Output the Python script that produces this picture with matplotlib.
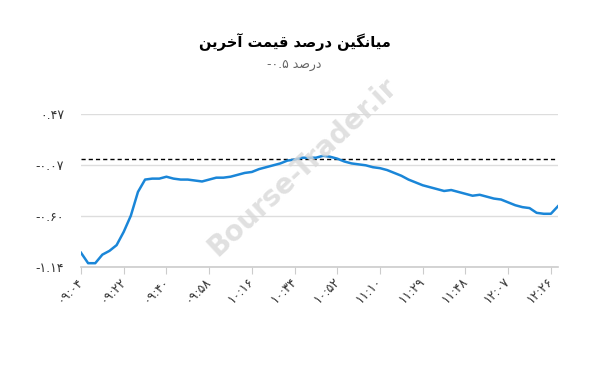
import numpy as np
import matplotlib
matplotlib.use("Agg")
import matplotlib.pyplot as plt

# average last-price change (%) sampled about every 3 minutes
values = [-0.99, -1.10, -1.10, -1.01, -0.97, -0.91, -0.77, -0.60, -0.35, -0.22,
          -0.21, -0.21, -0.19, -0.21, -0.22, -0.22, -0.23, -0.24, -0.22, -0.20,
          -0.20, -0.19, -0.17, -0.15, -0.14, -0.11, -0.09, -0.07, -0.05, -0.02,
          -0.01, 0.01, 0.01, 0.01, 0.03, 0.02, 0.00, -0.03, -0.05, -0.06,
          -0.07, -0.09, -0.10, -0.12, -0.15, -0.18, -0.22, -0.25, -0.28, -0.30,
          -0.32, -0.34, -0.33, -0.35, -0.37, -0.39, -0.38, -0.40, -0.42, -0.43,
          -0.46, -0.49, -0.51, -0.52, -0.57, -0.58, -0.58, -0.50]
tick_times = ["09:04", "09:22", "09:40", "09:58", "10:16", "10:34",
              "10:52", "11:10", "11:29", "11:48", "12:07", "12:26"]
y_min, y_max = -1.14, 0.47
ref_value = 0.0

title = "میانگین درصد قیمت آخرین"
unit = "درصد"
sub_value = "-0.5"

# matplotlib has no arabic shaping, so pick presentation forms by hand
FORMS = {
    'م': ('\uFEE1', '\uFEE2', '\uFEE3', '\uFEE4'),
    'ی': ('\uFBFC', '\uFBFD', '\uFBFE', '\uFBFF'),
    'ا': ('\uFE8D', '\uFE8E', None, None),
    'آ': ('\uFE81', '\uFE82', None, None),
    'ن': ('\uFEE5', '\uFEE6', '\uFEE7', '\uFEE8'),
    'گ': ('\uFB92', '\uFB93', '\uFB94', '\uFB95'),
    'د': ('\uFEA9', '\uFEAA', None, None),
    'ر': ('\uFEAD', '\uFEAE', None, None),
    'ص': ('\uFEB9', '\uFEBA', '\uFEBB', '\uFEBC'),
    'ق': ('\uFED5', '\uFED6', '\uFED7', '\uFED8'),
    'ت': ('\uFE95', '\uFE96', '\uFE97', '\uFE98'),
    'خ': ('\uFEA5', '\uFEA6', '\uFEA7', '\uFEA8'),
}


def rtl(text):
    out = []
    for i, ch in enumerate(text):
        if ch not in FORMS:
            out.append(ch)
            continue
        prev = text[i - 1] if i > 0 else ''
        nxt = text[i + 1] if i + 1 < len(text) else ''
        j_prev = prev in FORMS and FORMS[prev][2] is not None
        j_next = nxt in FORMS and FORMS[ch][2] is not None
        f = FORMS[ch]
        if j_prev and j_next:
            out.append(f[3])
        elif j_prev:
            out.append(f[1])
        elif j_next:
            out.append(f[2])
        else:
            out.append(f[0])
    return ''.join(reversed(out))


def fa(s):
    return s.translate(str.maketrans("0123456789", "۰۱۲۳۴۵۶۷۸۹"))


plt.rcParams['font.family'] = ['DejaVu Sans']

fig = plt.figure(figsize=(5.89, 3.73), dpi=100)
ax = fig.add_axes([81 / 589, 1 - 267 / 373, 477 / 589, 153 / 373])

x = np.arange(len(values))
ax.plot(x, values, color='#1a86d8', lw=1.8, solid_joinstyle='round', zorder=3)
ax.axhline(ref_value, color='black', lw=1.0, ls=(0, (3, 2.2)), zorder=2)

yt = np.linspace(y_min, y_max, 4)
ax.set_yticks(yt)
ax.set_yticklabels([fa("%.2f" % v) for v in yt])
ax.set_ylim(y_min, y_max)
ax.set_xlim(0, len(values) - 1)
ax.yaxis.grid(True, color='#dddddd', lw=1.0)
ax.set_axisbelow(True)

step = 6
ax.set_xticks(x[::step])
ax.set_xticklabels([fa(t) for t in tick_times], rotation=45, ha='right',
                   va='center', rotation_mode='anchor')

for s in ['top', 'right', 'left']:
    ax.spines[s].set_visible(False)
ax.spines['bottom'].set_color('#cccccc')
ax.spines['bottom'].set_linewidth(1.2)
ax.tick_params(axis='y', length=0, pad=12, labelsize=9, labelcolor='#333333')
ax.tick_params(axis='x', length=5, color='#cccccc', pad=4, labelsize=9,
               labelcolor='#333333')

fig.text(0.5, 1 - 42 / 373, rtl(title), ha='center', va='center',
         fontsize=10.5, fontweight='bold', color='black')
fig.text(0.5, 1 - 66 / 373, fa(sub_value) + " " + rtl(unit), ha='center',
         va='center', fontsize=9, color='#666666')

# site watermark
fig.text(303 / 589, 1 - 167 / 373, "Bourse-Trader.ir", rotation=43,
         ha='center', va='center', fontsize=20, fontweight='bold',
         color='#d9d9d9', alpha=0.8, zorder=1)

fig.savefig("out.png", dpi=100)
